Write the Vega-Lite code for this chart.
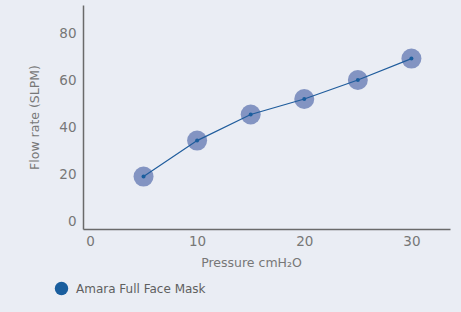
{
  "$schema": "https://vega.github.io/schema/vega-lite/v6.json",
  "width": 367,
  "height": 224,
  "autosize": {"type": "none"},
  "padding": {"left": 83, "top": 5, "right": 11, "bottom": 83},
  "background": "#eaedf4",
  "config": {
    "view": {"stroke": null},
    "font": "DejaVu Sans",
    "axis": {
      "grid": false,
      "ticks": false,
      "domainColor": "#6a6a6a",
      "domainWidth": 1.5,
      "labelColor": "#777777",
      "labelFontSize": 13.5,
      "titleColor": "#777777",
      "titleFontSize": 12.5,
      "titleFontWeight": "normal"
    }
  },
  "data": {
    "values": [
      {"pressure": 5, "flow": 19.3, "series": "Amara Full Face Mask"},
      {"pressure": 10, "flow": 34.6, "series": "Amara Full Face Mask"},
      {"pressure": 15, "flow": 45.7, "series": "Amara Full Face Mask"},
      {"pressure": 20, "flow": 52.3, "series": "Amara Full Face Mask"},
      {"pressure": 25, "flow": 60.4, "series": "Amara Full Face Mask"},
      {"pressure": 30, "flow": 69.5, "series": "Amara Full Face Mask"}
    ]
  },
  "encoding": {
    "x": {
      "field": "pressure",
      "type": "quantitative",
      "scale": {"domain": [-0.65, 33.6], "nice": false, "zero": false},
      "axis": {"values": [0, 10, 20, 30], "title": "Pressure cmH₂O", "labelPadding": 5, "titlePadding": 9, "titleX": 168, "titleAlign": "center"}
    },
    "y": {
      "field": "flow",
      "type": "quantitative",
      "scale": {"domain": [-3, 92.3], "nice": false, "zero": false},
      "axis": {"values": [0, 20, 40, 60, 80], "title": "Flow rate (SLPM)", "labelPadding": 7, "titlePadding": 17}
    }
  },
  "layer": [
    {
      "mark": {"type": "point", "filled": true, "shape": "circle", "size": 400, "color": "#8394c2", "opacity": 1}
    },
    {
      "mark": {"type": "line", "color": "#1f5c9c", "strokeWidth": 1.2}
    },
    {
      "mark": {"type": "point", "filled": true, "shape": "circle", "size": 16, "opacity": 1},
      "encoding": {
        "color": {
          "field": "series",
          "type": "nominal",
          "scale": {"range": ["#1a5e9e"]},
          "legend": {
            "title": null,
            "orient": "none",
            "legendX": -29,
            "legendY": 276,
            "symbolType": "circle",
            "symbolSize": 180,
            "symbolOpacity": 1,
            "labelFont": "DejaVu Sans",
            "labelFontSize": 12,
            "labelColor": "#5f5f5f",
            "labelOffset": 7
          }
        }
      }
    }
  ]
}
